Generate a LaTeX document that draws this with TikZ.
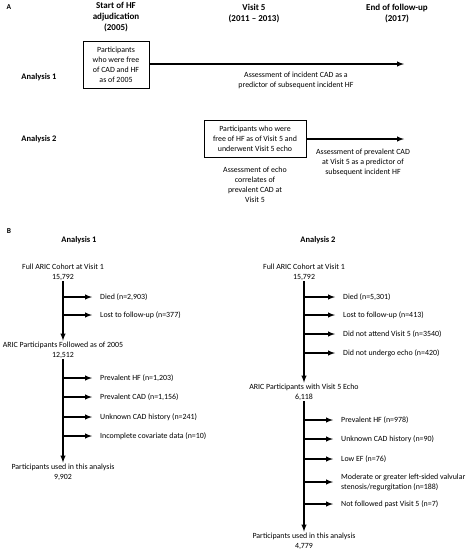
\documentclass[tikz,border=0pt]{standalone}
\usepackage{fontspec}
\setmainfont{Carlito}
\usetikzlibrary{positioning}

\tikzset{
  txt/.style={align=center, inner sep=1pt, font=\fontsize{7.9}{10}\selectfont},
  ltxt/.style={anchor=west, align=left, inner sep=0pt, font=\fontsize{7.9}{10}\selectfont},
  head/.style={align=center, inner sep=1pt, font=\fontsize{9}{11}\selectfont\bfseries},
  rowlab/.style={inner sep=1pt, font=\fontsize{8.5}{10}\selectfont\bfseries},
  panel/.style={inner sep=0pt, font=\fontsize{7.5}{9}\selectfont\bfseries},
  box/.style={draw, line width=1pt, align=center, inner sep=2pt, font=\fontsize{7.9}{10}\selectfont},
  flow/.style={->, line width=1.4pt},
  branch/.style={->, line width=1.4pt, shorten >=8pt},
}

\begin{document}
\begin{tikzpicture}[>=latex, x=1pt, y=-1pt]
	\useasboundingbox (0,0) rectangle (474,550);

	% panel A
	\node[panel] (pa) at (9,7) {A};
	\node[head] (t1) at (116,17) {Start of HF\\adjudication\\(2005)};
	\node[head] (t2) at (254,14) {Visit 5\\(2011 -- 2013)};
	\node[head] (t3) at (397,14) {End of follow-up\\(2017)};

	\node[rowlab] (an1) at (39,77) {Analysis 1};
	\node[rowlab] (an2) at (39,139) {Analysis 2};

	\node[box, minimum width=66pt, minimum height=47pt] (box1) at (116,64.5)
		{Participants\\who were free\\of CAD and HF\\as of 2005};
	\coordinate (e1) at (404,64);
	\draw[flow] (box1.east |- e1) -- (e1);
	\node[txt] (as1) at (296,80) {Assessment of incident CAD as a\\predictor of subsequent incident HF};

	\node[box, minimum width=102pt, minimum height=37pt] (box2) at (255,138.5)
		{Participants who were\\free of HF as of Visit 5 and\\underwent Visit 5 echo};
	\coordinate (e2) at (404,139);
	\draw[flow] (box2.east |- e2) -- (e2);
	\node[txt] (as2) at (363,162) {Assessment of prevalent CAD\\at Visit 5 as a predictor of\\subsequent incident HF};
	\node[txt] (as3) at (255,185) {Assessment of echo\\correlates of\\prevalent CAD at\\Visit 5};

	% panel B
	\node[panel] (pb) at (9,231) {B};
	\node[rowlab] (b1) at (79,240) {Analysis 1};
	\node[rowlab] (b2) at (318,240) {Analysis 2};

	% analysis 1 flow
	\node[txt] (c1) at (63,272) {Full ARIC Cohort at Visit 1\\15,792};
	\node[txt] (f1) at (63,350) {ARIC Participants Followed as of 2005\\12,512};
	\node[txt] (u1) at (63,472) {Participants used in this analysis\\9,902};
	\draw[flow] (c1) -- (f1);
	\draw[flow] (f1) -- (u1);

	\node[ltxt] (d1) at (100,297) {Died (n=2,903)};
	\node[ltxt] (d2) at (100,315) {Lost to follow-up (n=377)};
	\node[ltxt] (d3) at (100,378) {Prevalent HF (n=1,203)};
	\node[ltxt] (d4) at (100,397) {Prevalent CAD (n=1,156)};
	\node[ltxt] (d5) at (100,417) {Unknown CAD history (n=241)};
	\node[ltxt] (d6) at (100,436) {Incomplete covariate data (n=10)};
	\foreach \n in {1,...,6}
		\draw[branch] (c1.south |- d\n) -- (d\n.west);

	% analysis 2 flow
	\node[txt] (c2) at (304,272) {Full ARIC Cohort at Visit 1\\15,792};
	\node[txt] (f2) at (304,392) {ARIC Participants with Visit 5 Echo\\6,118};
	\node[txt] (u2) at (304,541) {Participants used in this analysis\\4,779};
	\draw[flow] (c2) -- (f2);
	\draw[flow] (f2) -- (u2);

	\node[ltxt] (g1) at (343,297) {Died (n=5,301)};
	\node[ltxt] (g2) at (343,315) {Lost to follow-up (n=413)};
	\node[ltxt] (g3) at (343,334) {Did not attend Visit 5 (n=3540)};
	\node[ltxt] (g4) at (343,353) {Did not undergo echo (n=420)};
	\node[ltxt] (g5) at (341,420) {Prevalent HF (n=978)};
	\node[ltxt] (g6) at (341,439) {Unknown CAD history (n=90)};
	\node[ltxt] (g7) at (341,459) {Low EF (n=76)};
	\node[ltxt] (g8) at (341,482) {Moderate or greater left-sided valvular\\stenosis/regurgitation (n=188)};
	\node[ltxt] (g9) at (341,504) {Not followed past Visit 5 (n=7)};
	\foreach \n in {1,...,9}
		\draw[branch] (c2.south |- g\n) -- (g\n.west);
\end{tikzpicture}
\end{document}
